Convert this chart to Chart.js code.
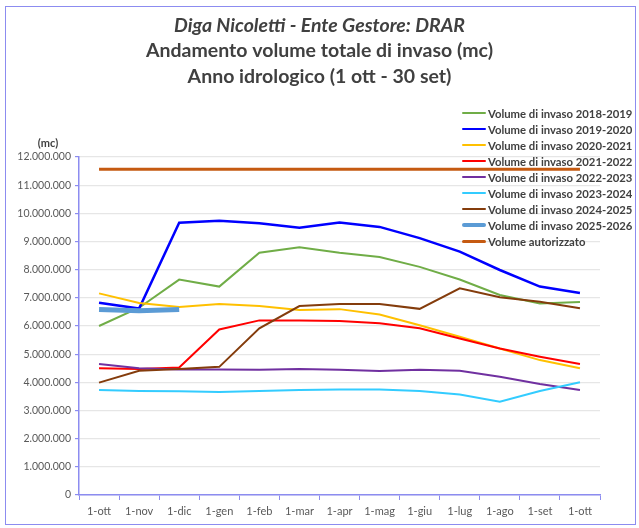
<!DOCTYPE html>
<html>
<head>
<meta charset="utf-8">
<script src="https://cdn.jsdelivr.net/npm/chart.js@4"></script>
<style>
  html, body { margin: 0; padding: 0; background: #fff; }
  #wrap { position: relative; width: 639px; height: 528px; }
  #frame { position: absolute; left: 5px; top: 6px; width: 631px; height: 519px; border: 1px solid #8c8cf0; box-sizing: border-box; pointer-events: none; }
  #legend { position: absolute; left: 462px; top: 105px; font-family: Lato, "Open Sans", sans-serif; font-weight: bold; font-size: 11.3px; color: #404040; }
  #legend div { height: 16px; display: flex; align-items: center; white-space: nowrap; }
  #legend span.sw { display: inline-block; width: 24px; margin-right: 2px; border-radius: 2px; }
</style>
</head>
<body>
<div id="wrap">
  <canvas id="invasoChart" width="639" height="528"></canvas>
  <div id="frame"></div>
  <div id="legend"></div>
</div>
<script>
const mesi = ['1-ott', '1-nov', '1-dic', '1-gen', '1-feb', '1-mar', '1-apr', '1-mag', '1-giu', '1-lug', '1-ago', '1-set', '1-ott'];

const vol2018 = [6000000, 6650000, 7650000, 7400000, 8600000, 8800000, 8600000, 8450000, 8100000, 7650000, 7100000, 6800000, 6850000];
const vol2019 = [6830000, 6620000, 9670000, 9740000, 9650000, 9490000, 9680000, 9520000, 9120000, 8640000, 7990000, 7400000, 7170000];
const vol2020 = [7160000, 6820000, 6680000, 6780000, 6710000, 6570000, 6600000, 6410000, 6030000, 5620000, 5200000, 4790000, 4500000];
const vol2021 = [4500000, 4470000, 4530000, 5880000, 6200000, 6200000, 6180000, 6100000, 5920000, 5560000, 5200000, 4910000, 4650000];
const vol2022 = [4650000, 4500000, 4460000, 4460000, 4450000, 4470000, 4450000, 4400000, 4450000, 4410000, 4200000, 3940000, 3730000];
const vol2023 = [3730000, 3690000, 3680000, 3660000, 3690000, 3730000, 3750000, 3750000, 3690000, 3570000, 3310000, 3690000, 4000000];
const vol2024 = [3990000, 4410000, 4470000, 4550000, 5920000, 6710000, 6780000, 6780000, 6610000, 7340000, 7020000, 6860000, 6630000];
const vol2025 = [6590000, 6540000, 6590000, null, null, null, null, null, null, null, null, null, null];
const volAutorizzato = [11570000, 11570000, 11570000, 11570000, 11570000, 11570000, 11570000, 11570000, 11570000, 11570000, 11570000, 11570000, 11570000];

function fmt(v) {
    return String(Math.round(v)).replace(/\B(?=(\d{3})+(?!\d))/g, '.');
}

function serie(label, data, color, width, order) {
    return {
        label: label,
        data: data,
        borderColor: color,
        backgroundColor: color,
        borderWidth: width,
        pointRadius: 0,
        tension: 0,
        fill: false,
        spanGaps: false,
        order: order
    };
}

const mcLabel = {
    id: 'mcLabel',
    afterDraw(chart) {
        const ctx = chart.ctx;
        ctx.save();
        ctx.font = 'bold 11px Lato, "Open Sans", sans-serif';
        ctx.fillStyle = '#404040';
        ctx.textAlign = 'center';
        ctx.textBaseline = 'middle';
        ctx.fillText('(mc)', 48, chart.chartArea.top - 14);
        ctx.restore();
    }
};

const axisColor = '#8c8cf0';

const chart = new Chart(document.getElementById('invasoChart').getContext('2d'), {
    type: 'line',
    data: {
        labels: mesi,
        datasets: [
            serie('Volume di invaso 2018-2019', vol2018, '#70ad47', 2, 9),
            serie('Volume di invaso 2019-2020', vol2019, '#0000ff', 2.5, 8),
            serie('Volume di invaso 2020-2021', vol2020, '#ffc000', 2, 7),
            serie('Volume di invaso 2021-2022', vol2021, '#ff0000', 2, 6),
            serie('Volume di invaso 2022-2023', vol2022, '#7030a0', 2, 5),
            serie('Volume di invaso 2023-2024', vol2023, '#33ccff', 2, 4),
            serie('Volume di invaso 2024-2025', vol2024, '#843c0c', 2, 3),
            serie('Volume di invaso 2025-2026', vol2025, '#5b9bd5', 5, 2),
            serie('Volume autorizzato', volAutorizzato, '#c55a11', 3, 1)
        ]
    },
    options: {
        responsive: false,
        animation: false,
        layout: {
            padding: 0
        },
        plugins: {
            legend: { display: false },
            tooltip: { enabled: false },
            title: {
                display: true,
                text: 'Diga Nicoletti - Ente Gestore: DRAR',
                color: '#404040',
                font: { family: 'Lato, "Open Sans", sans-serif', size: 19.5, style: 'italic', weight: 'bold', lineHeight: 1.3 },
                padding: { top: 13, bottom: 0 }
            },
            subtitle: {
                display: true,
                text: ['Andamento volume totale di invaso (mc)', 'Anno idrologico (1 ott - 30 set)'],
                color: '#404040',
                font: { family: 'Lato, "Open Sans", sans-serif', size: 19.5, weight: 'bold', lineHeight: 1.3 },
                padding: { top: 0, bottom: 68 }
            }
        },
        scales: {
            x: {
                offset: true,
                grid: {
                    drawOnChartArea: false,
                    drawTicks: true,
                    tickLength: 5,
                    color: axisColor,
                    offset: true
                },
                border: { color: axisColor, width: 1.5 },
                ticks: {
                    color: '#595959',
                    font: { family: 'Lato, "Open Sans", sans-serif', size: 11 },
                    padding: 5,
                    maxRotation: 0,
                    autoSkip: false
                },
                afterFit(scale) { scale.height = 33; }
            },
            y: {
                min: 0,
                max: 12000000,
                ticks: {
                    stepSize: 1000000,
                    color: '#595959',
                    font: { family: 'Lato, "Open Sans", sans-serif', size: 10.5 },
                    padding: 4,
                    callback: function (value) { return fmt(value); }
                },
                grid: {
                    color: '#e6e6e6',
                    tickColor: axisColor,
                    tickLength: 4,
                    lineWidth: 1.2
                },
                border: { color: axisColor, width: 1.5 },
                afterFit(scale) { scale.width = 79; }
            },
            // empty right-hand space so the plot ends where the reference does
            spacer: {
                type: 'linear',
                position: 'right',
                grid: { display: false },
                ticks: { display: false },
                border: { display: false },
                afterFit(scale) { scale.width = 39; }
            }
        }
    },
    plugins: [mcLabel]
});

// legend drawn as html over the top right corner of the plot
const legendBox = document.getElementById('legend');
chart.data.datasets.forEach(function (ds) {
    const row = document.createElement('div');
    const sw = document.createElement('span');
    sw.className = 'sw';
    sw.style.height = Math.min(ds.borderWidth, 4) + 'px';
    sw.style.background = ds.borderColor;
    row.appendChild(sw);
    row.appendChild(document.createTextNode(ds.label));
    legendBox.appendChild(row);
});
</script>
</body>
</html>
